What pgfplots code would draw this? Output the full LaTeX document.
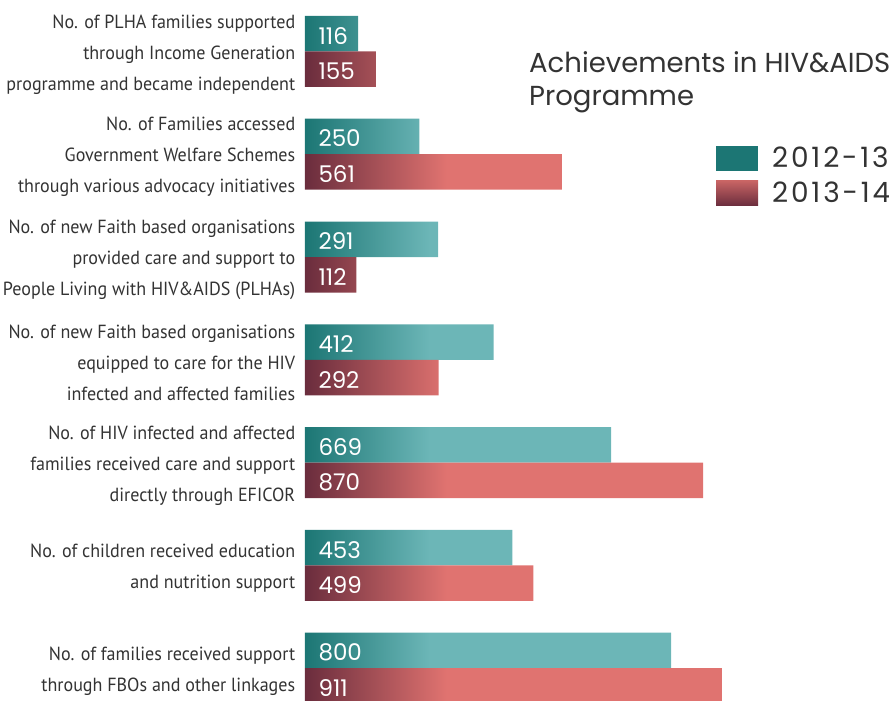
\documentclass[border=0pt]{standalone}
\usepackage{fontspec}
\usepackage{pgfplots}
\usepackage{pgfplotstable}
\pgfplotsset{compat=1.18}
\setmainfont{Poppins}
\newfontfamily\labelfont[FakeStretch=0.95]{PT Sans}
\newfontfamily\titlefont{Poppins}
\newfontfamily\legfont[LetterSpace=10]{Poppins}
\newfontfamily\valfont{Poppins}
\definecolor{tealdark}{HTML}{1C7674}
\definecolor{teallight}{HTML}{6CB6B7}
\definecolor{reddark}{HTML}{6A2D3D}
\definecolor{redlight}{HTML}{E07370}
\definecolor{redmid}{HTML}{C86464}
\definecolor{txt}{HTML}{333333}
\pgfdeclarehorizontalshading{tealbar}{100bp}{color(0bp)=(tealdark); color(25bp)=(tealdark); color(42bp)=(teallight); color(100bp)=(teallight)}
\pgfdeclarehorizontalshading{redbar}{100bp}{color(0bp)=(reddark); color(25bp)=(reddark); color(42bp)=(redlight); color(100bp)=(redlight)}
\pgfdeclareverticalshading{redleg}{100bp}{color(0bp)=(reddark); color(25bp)=(reddark); color(75bp)=(redmid); color(100bp)=(redmid)}
\pgfplotstableread{
pos a b
6 116 155
5 250 561
4 291 112
3 412 292
2 669 870
1 453 499
0 800 911
}\datatable
\begin{document}
\begin{tikzpicture}
\path[use as bounding box] (0pt,-701pt) rectangle (889pt,0pt);
\begin{axis}[
  at={(305pt,0pt)}, anchor=north west,
  scale only axis, width=457.7pt, height=719.6pt,
  xmin=0, xmax=1000, ymin=-0.5, ymax=6.5,
  xbar, bar width=35.5pt,
  axis line style={draw=none}, tick style={draw=none},
  xtick=\empty, ytick={0,...,6},
  yticklabels={
    {No. of families received support\\through FBOs and other linkages},
    {No. of children received education\\and nutrition support},
    {No. of HIV infected and affected\\families received care and support\\directly through EFICOR},
    {No. of new Faith based organisations\\equipped to care for the HIV\\infected and affected families},
    {No. of new Faith based organisations\\provided care and support to\\People Living with HIV\&AIDS (PLHAs)},
    {No. of Families accessed\\Government Welfare Schemes\\through various advocacy initiatives},
    {No. of PLHA families supported\\through Income Generation\\programme and became independent}},
  yticklabel style={align=right, font=\labelfont\fontsize{19}{31}\selectfont, text=txt, xshift=-2pt, yshift=-3pt},
  clip=false,
  /pgf/number format/assume math mode=true,
  visualization depends on={x \as \rawx},
  nodes near coords,
  nodes near coords style={anchor=west, text=white, font=\valfont\fontsize{23}{23}\selectfont, xshift={(10-\rawx*0.4577)*1pt}, yshift=-2pt},
  legend style={at={(0.898,0.7985)}, anchor=north west, draw=none, fill=none, inner sep=0pt, row sep=9pt,
    font=\legfont\fontsize{28}{28}\selectfont, text=txt},
  legend cell align=left,
]
\addplot[draw=none, shading=tealbar, bar shift=17.75pt,
  legend image code/.code={\pgfpathrectangle{\pgfpoint{0pt}{-12.5pt}}{\pgfpoint{42pt}{25pt}}\pgfsetfillcolor{tealdark}\pgfusepath{fill}\pgfpathrectangle{\pgfpoint{0pt}{-1pt}}{\pgfpoint{54pt}{2pt}}\pgfusepath{discard}}]
  table[x=a, y=pos] {\datatable};
\addplot[draw=none, shading=redbar, bar shift=-17.75pt,
  legend image code/.code={\shade[shading=redleg] (0pt,-12.5pt) rectangle (42pt,12.5pt);\pgfpathrectangle{\pgfpoint{0pt}{-1pt}}{\pgfpoint{54pt}{2pt}}\pgfusepath{discard}}]
  table[x=b, y=pos] {\datatable};
\legend{2012-13, 2013-14}
\end{axis}
\node[anchor=base west, font=\titlefont\fontsize{27.5}{32}\selectfont, text=txt, inner sep=0pt] at (529pt,-73pt) {Achievements in HIV\&AIDS};
\node[anchor=base west, font=\titlefont\fontsize{27.5}{32}\selectfont, text=txt, inner sep=0pt] at (529pt,-105pt) {Programme};
\end{tikzpicture}
\end{document}
